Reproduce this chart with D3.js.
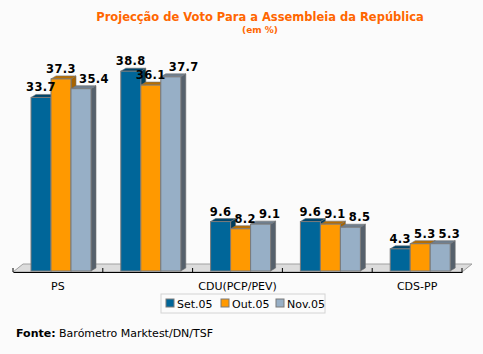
<!DOCTYPE html>
<html>
<head>
<meta charset="utf-8">
<script src="https://cdn.jsdelivr.net/npm/d3@7"></script>
<style>
  body { margin: 0; background: #fbfbfb; }
  svg { display: block; font-family: Verdana, "DejaVu Sans", sans-serif; }
</style>
</head>
<body>
<div id="chart"></div>
<script>
// Parties (only every other label is printed on the axis)
const parties = ["PS", "PSD", "CDU(PCP/PEV)", "BE", "CDS-PP"];
const shownLabels = ["PS", "CDU(PCP/PEV)", "CDS-PP"];
const series = ["Set.05", "Out.05", "Nov.05"];
const set05 = [33.7, 38.8, 9.6, 9.6, 4.3];
const out05 = [37.3, 36.1, 8.2, 9.1, 5.3];
const nov05 = [35.4, 37.7, 9.1, 8.5, 5.3];
const seriesValues = [set05, out05, nov05];

const W = 483, H = 354;
const depthX = 5, depthY = 3;
const floorX = 10, floorY = 8;

const colors = {
  "Set.05": { front: "#006699", top: "#00456a", side: "#003d5c" },
  "Out.05": { front: "#ff9900", top: "#b86e00", side: "#a86400" },
  "Nov.05": { front: "#97afc6", top: "#6f7f8f", side: "#56616c" }
};

const svg = d3.select("#chart").append("svg")
  .attr("width", W).attr("height", H);

svg.append("rect").attr("width", W).attr("height", H).attr("fill", "#fbfbfb");

// Scales
const x0 = d3.scaleBand().domain(parties).range([13, 462]);
const x1 = d3.scaleBand().domain(series).range([18, 78]);
const y = d3.scaleLinear().domain([0, 40]).range([271, 65]);

// Title
svg.append("text")
  .attr("x", 260).attr("y", 21)
  .attr("text-anchor", "middle")
  .attr("fill", "#ff6600")
  .style("font-size", "11.5px").style("font-weight", "bold")
  .text("Projecção de Voto Para a Assembleia da República");
svg.append("text")
  .attr("x", 260).attr("y", 33)
  .attr("text-anchor", "middle")
  .attr("fill", "#ff6600")
  .style("font-size", "9px").style("font-weight", "bold")
  .text("(em %)");

// 3D floor
const base = y(0);
svg.append("path")
  .attr("d", `M13,${base + 1} L${13 + floorX},${base + 1 - floorY} L${462 + floorX},${base + 1 - floorY} L462,${base + 1} Z`)
  .attr("fill", "#dcdcdc")
  .attr("stroke", "#a0a0a0");

// Bars
const rows = [];
parties.forEach((p, i) => {
  series.forEach((s, j) => rows.push({ party: p, series: s, value: seriesValues[j][i] }));
});

const bar = svg.append("g").selectAll("g")
  .data(rows).join("g")
  .attr("transform", d => `translate(${x0(d.party) + x1(d.series)},0)`);

const bw = x1.bandwidth();

bar.append("path") // side
  .attr("d", d => {
    const t = y(d.value);
    return `M${bw},${t} L${bw + depthX},${t - depthY} L${bw + depthX},${base - depthY} L${bw},${base} Z`;
  })
  .attr("fill", d => colors[d.series].side)
  .attr("stroke", "#6f6f6f").attr("stroke-width", 0.6);

bar.append("path") // top
  .attr("d", d => {
    const t = y(d.value);
    return `M0,${t} L${depthX},${t - depthY} L${bw + depthX},${t - depthY} L${bw},${t} Z`;
  })
  .attr("fill", d => colors[d.series].top)
  .attr("stroke", "#6f6f6f").attr("stroke-width", 0.6);

bar.append("rect") // front
  .attr("x", 0)
  .attr("y", d => y(d.value))
  .attr("width", bw)
  .attr("height", d => base - y(d.value))
  .attr("fill", d => colors[d.series].front)
  .attr("stroke", "#7a7a7a").attr("stroke-width", 1);

// Value labels (drawn on top, nudged right when they collide)
const labels = svg.append("g").selectAll("text")
  .data(rows).join("text")
  .attr("x", d => x0(d.party) + x1(d.series) + bw / 2)
  .attr("y", d => y(d.value) - 6)
  .attr("text-anchor", "middle")
  .attr("fill", "#000")
  .style("font-size", "11.5px").style("font-weight", "bold")
  .style("letter-spacing", "0.4px")
  .text(d => d.value.toFixed(1));

const nodes = labels.nodes();
for (let i = 1; i < nodes.length; i++) {
  if (rows[i].party !== rows[i - 1].party) continue;
  const a = nodes[i - 1].getBBox(), b = nodes[i].getBBox();
  const vOverlap = Math.abs(a.y - b.y) < 13;
  const overlapX = a.x + a.width + 3 - b.x;
  if (vOverlap && overlapX > 0) {
    nodes[i].setAttribute("x", +nodes[i].getAttribute("x") + overlapX);
  }
}

// X axis
const xAxis = d3.axisBottom(x0)
  .tickSize(0)
  .tickPadding(10)
  .tickFormat(d => shownLabels.includes(d) ? d : "");
const gx = svg.append("g")
  .attr("transform", `translate(0,${base + 1})`)
  .call(xAxis);
gx.select(".domain").attr("stroke", "#000");
gx.selectAll("text").style("font-size", "11px").attr("fill", "#000")
  .style("font-family", "Verdana, 'DejaVu Sans', sans-serif");
// tick marks at group boundaries
const bounds = parties.map(p => x0(p)).concat([x0.range()[1]]);
gx.selectAll(".sep").data(bounds).join("line")
  .attr("x1", d => d).attr("x2", d => d)
  .attr("y1", 0).attr("y2", -4)
  .attr("stroke", "#000");

// Legend
const legend = svg.append("g").attr("transform", "translate(161,294)");
legend.append("rect")
  .attr("width", 164).attr("height", 19)
  .attr("fill", "#fbfbfb").attr("stroke", "#d4d4d4");
const itemX = [5, 60, 115];
const item = legend.selectAll(".item").data(series).join("g")
  .attr("transform", (d, i) => `translate(${itemX[i]},0)`);
item.append("rect")
  .attr("x", 0).attr("y", 5).attr("width", 8).attr("height", 8)
  .attr("fill", d => colors[d].front)
  .attr("stroke", "#7a7a7a");
item.append("text")
  .attr("x", 11).attr("y", 14)
  .style("font-size", "11px")
  .attr("fill", "#000")
  .text(d => d);

// Source
const src = svg.append("text").attr("x", 16).attr("y", 337)
  .style("font-size", "11px").attr("fill", "#000");
src.append("tspan").style("font-weight", "bold").text("Fonte:");
src.append("tspan").text(" Barómetro Marktest/DN/TSF");
</script>
</body>
</html>
